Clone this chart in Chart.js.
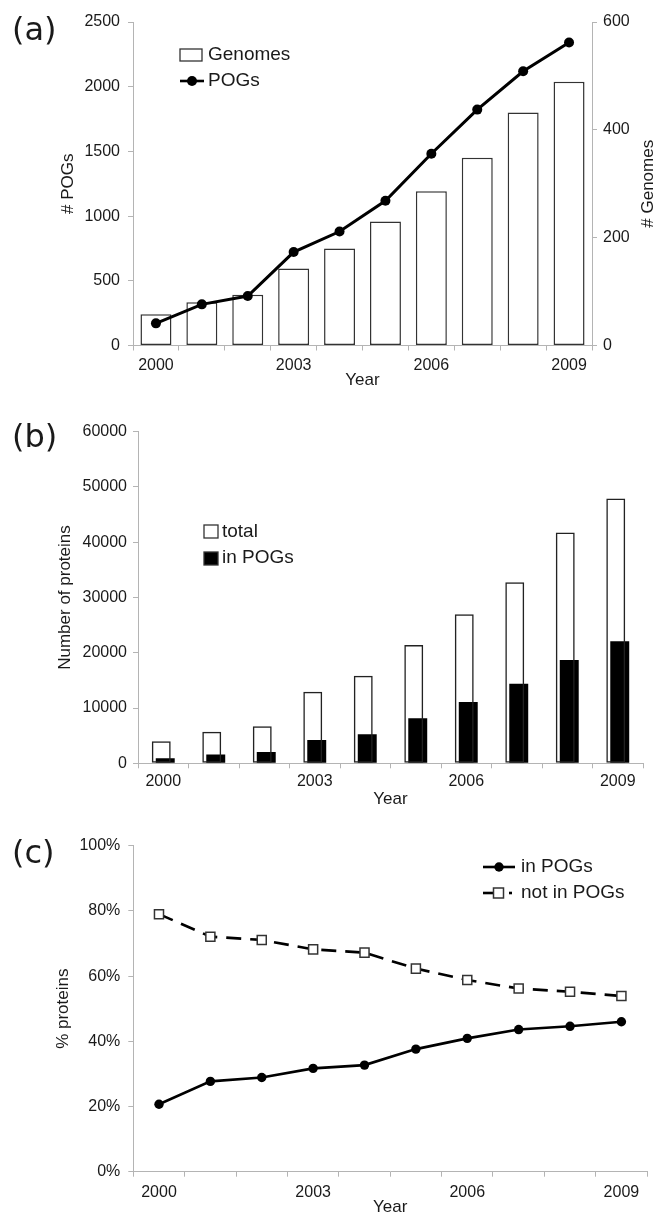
<!DOCTYPE html>
<html>
<head>
<meta charset="utf-8">
<script src="https://cdn.jsdelivr.net/npm/chart.js@4.4.0/dist/chart.umd.min.js"></script>
<style>
  html, body { margin: 0; padding: 0; background: #fff; overflow: hidden; width: 655px; height: 1214px; }
  canvas { position: absolute; left: 0; }
  .tag { position: absolute; left: 12px; z-index: 2; font-family: "DejaVu Sans", sans-serif;
         font-size: 32px; line-height: 32px; color: #1a1a1a; }
</style>
</head>
<body>
<canvas id="chartA" width="655" height="395" style="top:0px"></canvas>
<canvas id="chartB" width="655" height="415" style="top:395px"></canvas>
<canvas id="chartC" width="655" height="414" style="top:810px"></canvas>
<div class="tag" style="top:13px">(a)</div>
<div class="tag" style="top:420px">(b)</div>
<div class="tag" style="top:836px">(c)</div>
<script>
// ---- data ----
const years = ['2000', '2001', '2002', '2003', '2004', '2005', '2006', '2007', '2008', '2009'];
const labelledYears = ['2000', '2003', '2006', '2009'];

// (a) number of POGs (left axis) and sequenced genomes (right axis)
const pogCounts = [171, 318, 382, 722, 881, 1118, 1482, 1823, 2119, 2341];
const genomeCounts = [58, 80, 94, 143, 180, 230, 286, 348, 432, 489];

// (b) proteins in total and proteins that fall in POGs
const proteinsTotal = [4000, 5700, 6700, 12950, 15850, 21400, 26950, 32750, 41750, 47900];
const proteinsInPogs = [900, 1600, 2050, 4200, 5250, 8150, 11100, 14400, 18700, 22100];

// (c) share of proteins in / not in POGs (percent)
const pctInPogs = [20.7, 27.7, 28.9, 31.7, 32.7, 37.6, 40.9, 43.6, 44.6, 46.0];
const pctNotInPogs = [79.0, 72.1, 71.1, 68.2, 67.2, 62.3, 58.8, 56.2, 55.2, 53.9];

// ---- shared styling ----
const AXIS = '#b4b4b4';
const TEXT = '#1a1a1a';
const FAMILY = '"Liberation Sans", Arial, sans-serif';
const tickFont = { family: FAMILY, size: 16 };
const titleFont = { family: FAMILY, size: 17 };
const legendFont = '19px "Liberation Sans", Arial, sans-serif';

function yearAxis(height, labelPad, titlePadBottom) {
  return {
    type: 'category',
    offset: true,
    grid: { offset: true, drawOnChartArea: false, drawTicks: true, tickLength: 5, color: AXIS, lineWidth: 1 },
    border: { display: true, color: AXIS, width: 1 },
    ticks: {
      autoSkip: false, maxRotation: 0, minRotation: 0, padding: labelPad, color: TEXT, font: tickFont,
      callback(value) {
        const l = this.getLabelForValue(value);
        return labelledYears.includes(l) ? l : '';
      }
    },
    title: { display: true, text: 'Year', color: TEXT, font: titleFont, padding: { top: 0, bottom: titlePadBottom } },
    afterFit(scale) { scale.height = height; }
  };
}

function valueAxis(opts) {
  return {
    position: opts.position || 'left',
    min: opts.min, max: opts.max,
    grid: { drawOnChartArea: false, drawTicks: true, tickLength: 5, color: AXIS, lineWidth: 1 },
    border: { display: true, color: AXIS, width: 1 },
    ticks: { stepSize: opts.step, padding: opts.pad, color: TEXT, font: tickFont, callback: opts.format },
    title: opts.title
      ? { display: true, text: opts.title, color: TEXT, font: titleFont, padding: { top: opts.titlePad, bottom: 0 } }
      : { display: false },
    afterFit(scale) { scale.width = opts.width; }
  };
}

// Legends and the rotated right-hand title are painted on top of each chart.
function drawMarker(ctx, kind, x, y, size) {
  ctx.setLineDash([]);
  if (kind === 'circle') {
    ctx.fillStyle = '#000';
    ctx.beginPath(); ctx.arc(x, y, size, 0, Math.PI * 2); ctx.fill();
  } else if (kind === 'square') {
    ctx.fillStyle = '#fff'; ctx.strokeStyle = '#333'; ctx.lineWidth = 1.5;
    ctx.fillRect(x - size / 2, y - size / 2, size, size);
    ctx.strokeRect(x - size / 2, y - size / 2, size, size);
  }
}

const overlayPlugin = {
  id: 'overlay',
  afterDraw(chart, args, opts) {
    const ctx = chart.ctx;
    ctx.save();
    (opts.items || []).forEach(it => {
      if (it.kind === 'box') {
        ctx.fillStyle = it.fill; ctx.strokeStyle = '#333'; ctx.lineWidth = 1.3;
        ctx.fillRect(it.x, it.y, it.w, it.h);
        ctx.strokeRect(it.x, it.y, it.w, it.h);
      } else if (it.kind === 'line') {
        ctx.strokeStyle = '#000'; ctx.lineWidth = 2.6; ctx.setLineDash([]);
        ctx.beginPath(); ctx.moveTo(it.x1, it.y); ctx.lineTo(it.x2, it.y); ctx.stroke();
        drawMarker(ctx, 'circle', (it.x1 + it.x2) / 2, it.y, it.r);
      } else if (it.kind === 'dashed') {
        ctx.strokeStyle = '#000'; ctx.lineWidth = 2.6; ctx.setLineDash([]);
        ctx.beginPath(); ctx.moveTo(it.x1, it.y); ctx.lineTo(it.mx - it.r / 2, it.y); ctx.stroke();
        ctx.beginPath(); ctx.moveTo(it.x2 - 3, it.y); ctx.lineTo(it.x2, it.y); ctx.stroke();
        drawMarker(ctx, 'square', it.mx, it.y, it.r);
      }
      ctx.fillStyle = TEXT; ctx.font = legendFont;
      ctx.textAlign = 'left'; ctx.textBaseline = 'middle';
      ctx.fillText(it.label, it.tx, it.ty);
    });
    if (opts.sideTitle) {
      const st = opts.sideTitle;
      const area = chart.chartArea;
      ctx.translate(st.x, (area.top + area.bottom) / 2);
      ctx.rotate(-Math.PI / 2);
      ctx.fillStyle = TEXT;
      ctx.font = '17px "Liberation Sans", Arial, sans-serif';
      ctx.textAlign = 'center'; ctx.textBaseline = 'middle';
      ctx.fillText(st.text, 0, 0);
    }
    ctx.restore();
  }
};

Chart.register(overlayPlugin);
Chart.defaults.animation = false;
Chart.defaults.responsive = false;
Chart.defaults.plugins.legend.display = false;
Chart.defaults.plugins.tooltip.enabled = false;
Chart.defaults.devicePixelRatio = 1;

// ---- (a) POGs and genomes per year ----
new Chart(document.getElementById('chartA'), {
  type: 'bar',
  data: {
    labels: years,
    datasets: [
      {
        type: 'line', label: 'POGs', data: pogCounts, yAxisID: 'y',
        borderColor: '#000', borderWidth: 3, tension: 0,
        pointRadius: 5, pointBackgroundColor: '#000', pointBorderWidth: 0
      },
      {
        type: 'bar', label: 'Genomes', data: genomeCounts, yAxisID: 'y2',
        backgroundColor: '#fff', borderColor: '#333', borderWidth: 1.5, borderSkipped: false,
        barPercentage: 0.675, categoryPercentage: 1
      }
    ]
  },
  options: {
    layout: { padding: { top: 22, left: 0, right: 0, bottom: 0 } },
    scales: {
      x: yearAxis(49.5, 5, 4),
      y: valueAxis({ min: 0, max: 2500, step: 500, pad: 8, width: 133, title: '# POGs', titlePad: 58,
                     format: v => String(v) }),
      y2: valueAxis({ position: 'right', min: 0, max: 600, step: 200, pad: 6, width: 63,
                      format: v => String(v) })
    },
    plugins: {
      overlay: {
        items: [
          { kind: 'box', x: 180, y: 49, w: 22, h: 12, fill: '#fff', label: 'Genomes', tx: 208, ty: 55 },
          { kind: 'line', x1: 180, x2: 204, y: 81, r: 5, label: 'POGs', tx: 208, ty: 81 }
        ],
        sideTitle: { text: '# Genomes', x: 648 }
      }
    }
  }
});

// ---- (b) number of proteins ----
new Chart(document.getElementById('chartB'), {
  type: 'bar',
  data: {
    labels: years,
    datasets: [
      {
        label: 'total', data: proteinsTotal,
        backgroundColor: 'rgba(255,255,255,0)', borderColor: '#222', borderWidth: 1.5, borderSkipped: false
      },
      {
        label: 'in POGs', data: proteinsInPogs,
        backgroundColor: '#000', borderColor: '#000', borderWidth: 0
      }
    ]
  },
  options: {
    layout: { padding: { top: 36.7, left: 0, right: 12, bottom: 0 } },
    datasets: { bar: { categoryPercentage: 0.158, barPercentage: 4.75 } },
    scales: {
      x: yearAxis(46.7, 4, 0),
      y: valueAxis({ min: 0, max: 60000, step: 10000, pad: 6, width: 138, title: 'Number of proteins', titlePad: 55,
                     format: v => String(v) })
    },
    plugins: {
      overlay: {
        items: [
          { kind: 'box', x: 204, y: 130, w: 14, h: 13, fill: '#fff', label: 'total', tx: 222, ty: 137 },
          { kind: 'box', x: 204, y: 157, w: 14, h: 13, fill: '#000', label: 'in POGs', tx: 222, ty: 163 }
        ]
      }
    }
  }
});

// ---- (c) share of proteins ----
new Chart(document.getElementById('chartC'), {
  type: 'line',
  data: {
    labels: years,
    datasets: [
      {
        label: 'in POGs', data: pctInPogs,
        borderColor: '#000', borderWidth: 2.6, tension: 0,
        pointRadius: 4.7, pointBackgroundColor: '#000', pointBorderWidth: 0
      },
      {
        label: 'not in POGs', data: pctNotInPogs,
        borderColor: '#000', borderWidth: 2.6, borderDash: [15, 9], tension: 0,
        pointStyle: 'rect', pointRadius: 6.4, pointBackgroundColor: '#fff',
        pointBorderColor: '#333', pointBorderWidth: 1.5
      }
    ]
  },
  options: {
    layout: { padding: { top: 35.7, left: 0, right: 7, bottom: 0 } },
    scales: {
      x: yearAxis(52.3, 6, 6),
      y: valueAxis({ min: 0, max: 100, step: 20, pad: 8, width: 133.3, title: '% proteins', titlePad: 53,
                     format: v => v + '%' })
    },
    plugins: {
      overlay: {
        items: [
          { kind: 'line', x1: 483, x2: 515, y: 57, r: 4.7, label: 'in POGs', tx: 521, ty: 57 },
          { kind: 'dashed', x1: 483, x2: 512, mx: 498.5, y: 83, r: 10, label: 'not in POGs', tx: 521, ty: 83 }
        ]
      }
    }
  }
});
</script>
</body>
</html>
